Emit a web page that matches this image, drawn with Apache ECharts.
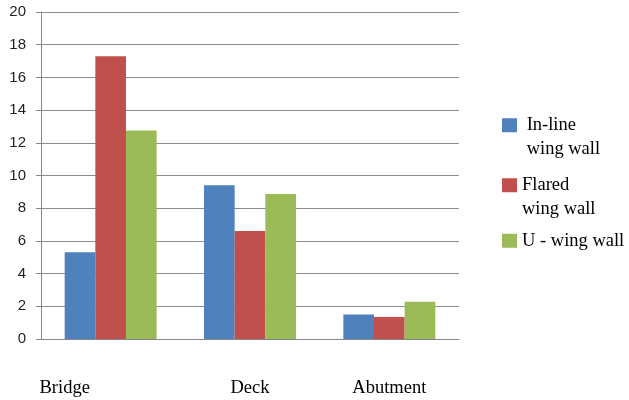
<!DOCTYPE html>
<html>
<head>
<meta charset="utf-8">
<script src="https://cdn.jsdelivr.net/npm/echarts@6/dist/echarts.min.js"></script>
<style>
  html, body { margin: 0; padding: 0; background: #fff; }
</style>
</head>
<body>
<div id="main" style="width: 629px;height:400px;"></div>
<script type="text/javascript">
    var categories = ['Bridge', 'Deck', 'Abutment'];
    var inlineWall = [5.3, 9.4, 1.5];
    var flaredWall = [17.3, 6.6, 1.35];
    var uWall = [12.75, 8.87, 2.28];
    var seriesNames = ['In-line wing wall', 'Flared wing wall', 'U - wing wall'];
    // a blank first line keeps the icon level with the first text line
    var legendText = [' \n In-line\n wing wall', ' \nFlared\nwing wall', 'U - wing wall'];
    var colors = ['#4F81BD', '#C0504D', '#9BBB59'];

    var myChart = echarts.init(document.getElementById('main'));

    function legendItem(i, top) {
        return {
            data: [seriesNames[i]],
            left: 497,
            top: top,
            orient: 'vertical',
            itemWidth: 15,
            itemHeight: 14,
            icon: 'rect',
            formatter: function () { return legendText[i]; },
            textStyle: {
                fontFamily: 'Liberation Serif',
                fontSize: 18.5,
                color: '#000',
                lineHeight: 23.5
            }
        };
    }

    var option = {
        animation: false,
        color: colors,
        grid: { left: 41, right: 170, top: 12, bottom: 61 },
        legend: [legendItem(0, 85), legendItem(1, 145), legendItem(2, 224)],
        xAxis: {
            type: 'category',
            data: categories,
            axisLine: { lineStyle: { color: '#868686' } },
            axisTick: { length: 6, lineStyle: { color: '#868686' } },
            axisLabel: {
                margin: 40,
                fontFamily: 'Liberation Serif',
                fontSize: 18.5,
                color: '#000',
                formatter: function (v) {
                    return v === 'Bridge' ? '{shift|' + v + '}' : v;
                },
                rich: {
                    shift: {
                        fontFamily: 'Liberation Serif',
                        fontSize: 18.5,
                        color: '#000',
                        padding: [0, 92, 0, 0]
                    }
                }
            }
        },
        yAxis: {
            type: 'value',
            min: 0,
            max: 20,
            interval: 2,
            axisLine: { show: true, lineStyle: { color: '#868686' } },
            axisTick: { show: true, length: 5, lineStyle: { color: '#868686' } },
            splitLine: { lineStyle: { color: '#8c8c8c' } },
            axisLabel: {
                margin: 15,
                fontFamily: 'Liberation Sans',
                fontSize: 15,
                color: '#1f1f1f'
            }
        },
        series: [
            { name: seriesNames[0], type: 'bar', data: inlineWall, barGap: 0, barCategoryGap: '34%' },
            { name: seriesNames[1], type: 'bar', data: flaredWall, barGap: 0, barCategoryGap: '34%' },
            { name: seriesNames[2], type: 'bar', data: uWall, barGap: 0, barCategoryGap: '34%' }
        ]
    };

    myChart.setOption(option);
</script>
</body>
</html>
